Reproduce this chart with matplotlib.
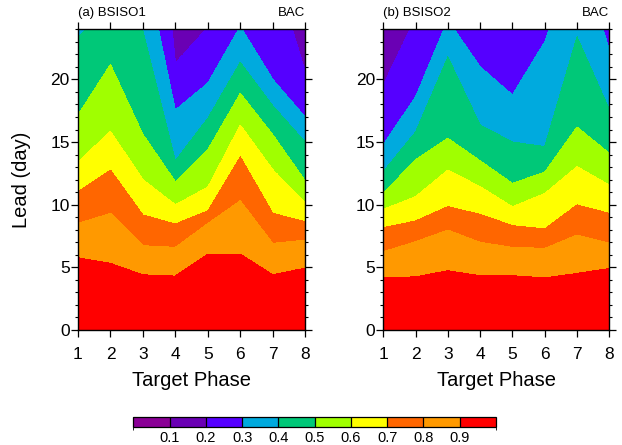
import numpy as np
import matplotlib
matplotlib.use("Agg")
import matplotlib.pyplot as plt
from matplotlib.colors import ListedColormap, BoundaryNorm

plt.rcParams['font.family'] = ['Liberation Sans', 'DejaVu Sans']

# ---------------- data ----------------
phases = [1, 2, 3, 4, 5, 6, 7, 8]
cross_levels = [0.9, 0.8, 0.7, 0.6, 0.5, 0.4, 0.3, 0.2]
# Lead day (per target phase) at which BAC falls to each level.
# Values above 24 are extrapolated crossings beyond the plotted range.

# Panel (a) BSISO1
a_09 = [5.77, 5.32, 4.41, 4.31, 6.07, 6.07, 4.41, 4.95]
a_08 = [8.51, 9.31, 6.73, 6.60, 8.50, 10.32, 6.92, 7.18]
a_07 = [11.04, 12.77, 9.18, 8.46, 9.50, 13.83, 9.31, 8.64]
a_06 = [13.40, 15.86, 12.00, 10.00, 11.40, 16.36, 12.80, 10.20]
a_05 = [17.16, 21.20, 15.60, 11.84, 14.40, 18.89, 15.60, 11.90]
a_04 = [23.40, 25.60, 23.84, 13.50, 16.90, 21.36, 17.90, 15.00]
a_03 = [32.0, 36.0, 29.9, 17.56, 19.70, 24.23, 20.00, 17.00]
a_02 = [40.0, 45.0, 46.0, 21.28, 24.14, 30.0, 29.1, 20.60]

# Panel (b) BSISO2
b_09 = [4.17, 4.25, 4.73, 4.34, 4.34, 4.17, 4.52, 4.92]
b_08 = [6.25, 7.05, 7.98, 7.00, 6.60, 6.52, 7.58, 6.92]
b_07 = [8.17, 8.70, 9.84, 9.23, 8.33, 8.06, 9.98, 9.31]
b_06 = [9.63, 10.64, 12.77, 11.44, 9.84, 10.90, 13.04, 11.57]
b_05 = [10.91, 13.60, 15.30, 13.50, 11.70, 12.60, 16.20, 14.10]
b_04 = [12.64, 15.80, 21.80, 16.36, 15.00, 14.63, 23.40, 17.60]
b_03 = [14.80, 18.60, 24.74, 21.00, 18.76, 23.00, 30.5, 22.40]
b_02 = [19.55, 24.90, 40.0, 32.0, 28.0, 35.0, 45.0, 33.0]

cbar_levels = [0.0, 0.1, 0.2, 0.3, 0.4, 0.5, 0.6, 0.7, 0.8, 0.9, 1.001]
cbar_ticks = [0.1, 0.2, 0.3, 0.4, 0.5, 0.6, 0.7, 0.8, 0.9]
colors = ['#8a0096', '#6a00b4', '#5500ff', '#00aade', '#00c878',
          '#a0ff00', '#ffff00', '#ff6600', '#ff9900', '#ff0000']

# fine grid for drawing
xg = np.linspace(1, 8, 421)
yg = np.linspace(0, 24, 481)


def build(rows):
    rows = np.array(rows)  # (nlevels, nphases)
    Z = np.zeros((len(yg), len(xg)))
    for j, x in enumerate(xg):
        days = [np.interp(x, phases, r) for r in rows]
        kd = np.array([0.0] + days + [200.0])
        kv = np.array([1.0] + cross_levels + [0.0])
        Z[:, j] = np.interp(yg, kd, kv)
    return Z


Za = build([a_09, a_08, a_07, a_06, a_05, a_04, a_03, a_02])
Zb = build([b_09, b_08, b_07, b_06, b_05, b_04, b_03, b_02])

cmap = ListedColormap(colors)
norm = BoundaryNorm(cbar_levels, cmap.N)

W, H = 622, 445
fig = plt.figure(figsize=(W / 100, H / 100), dpi=100)


def px_axes(l, t, r, b):
    return fig.add_axes([l / W, 1 - b / H, (r - l) / W, (b - t) / H])


axa = px_axes(78, 29.3, 305.2, 330)
axb = px_axes(383.3, 29.3, 609.3, 330)

for ax, Z, lab in [(axa, Za, '(a) BSISO1'), (axb, Zb, '(b) BSISO2')]:
    cf = ax.contourf(xg, yg, Z, levels=cbar_levels, cmap=cmap, norm=norm,
                     antialiased=False)
    ax.set_xlim(1, 8)
    ax.set_ylim(0, 24)
    ax.set_xticks(phases)
    ax.set_yticks([0, 5, 10, 15, 20])
    ax.set_yticks(np.arange(0, 25, 1), minor=True)
    ax.tick_params(which='major', direction='out', length=5, width=0.9,
                   top=True, right=True, labelsize=12.5)
    ax.tick_params(axis='y', which='major', pad=1)
    ax.tick_params(axis='x', which='major', pad=7)
    ax.tick_params(which='minor', direction='out', length=2.5, width=0.8,
                   right=True, left=True)
    for s in ax.spines.values():
        s.set_linewidth(1.0)
    ax.text(0.0, 1.035, lab, transform=ax.transAxes, ha='left', va='bottom',
            fontsize=9.5)
    ax.text(1.0, 1.035, 'BAC', transform=ax.transAxes, ha='right', va='bottom',
            fontsize=9.5)
    bb = ax.get_position()
    fig.text((bb.x0 + bb.x1) / 2, 1 - 381 / H, 'Target Phase', ha='center',
             va='center', fontsize=14.5)

fig.text(22 / W, 1 - 180 / H, 'Lead (day)', rotation=90, ha='center',
         va='center', fontsize=14.5)

cax = px_axes(133.3, 416.7, 496, 427.3)
cb = fig.colorbar(cf, cax=cax, orientation='horizontal', drawedges=True,
                  ticks=cbar_ticks)
cb.ax.tick_params(length=0, labelsize=10.5, pad=3)
cb.ax.set_xticklabels([f'{t:.1f}' for t in cbar_ticks])
cb.outline.set_linewidth(0.9)
cb.dividers.set_linewidth(0.9)

fig.savefig('out.png', dpi=100)
